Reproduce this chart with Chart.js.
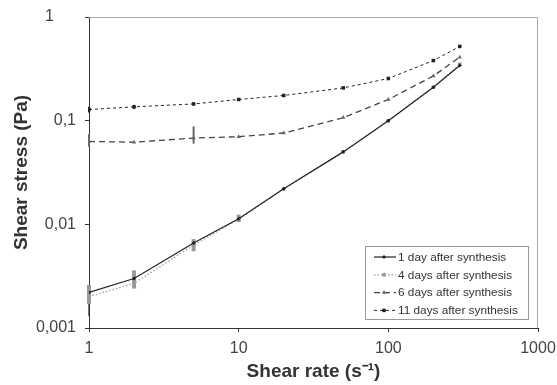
<!DOCTYPE html>
<html>
<head>
<meta charset="utf-8">
<script src="https://cdn.jsdelivr.net/npm/chart.js@4/dist/chart.umd.min.js"></script>
<style>
  html, body { margin: 0; padding: 0; background: #fff; }
  #wrap { width: 557px; height: 385px; }
</style>
</head>
<body>
<div id="wrap"><canvas id="c"></canvas></div>
<script>
// shear rate (s-1)
const shearRate = [1, 2, 5, 10, 20, 50, 100, 200, 300];
// shear stress (Pa) per sample age
const day1 = [0.0022, 0.003, 0.0066, 0.0113, 0.022, 0.05, 0.1, 0.21, 0.34];
const day4 = [0.002, 0.0027, 0.0063, 0.0112, 0.022, 0.05, 0.1, 0.21, 0.35];
const day6 = [0.063, 0.062, 0.068, 0.07, 0.076, 0.107, 0.16, 0.27, 0.41];
const day11 = [0.128, 0.136, 0.145, 0.16, 0.175, 0.207, 0.255, 0.38, 0.52];

// error bar ranges [low, high] (null = none)
const day1Err = [[0.0013, 0.0022], null, null, null, null, null, null, null, null];
const day4Err = [[0.0017, 0.0026], [0.0024, 0.0036], [0.0055, 0.0072], [0.0105, 0.0124], null, null, null, null, null];
const day6Err = [[0.056, 0.074], null, [0.06, 0.088], null, null, null, null, null, null];
const day11Err = [[0.12, 0.136], [0.13, 0.142], null, null, null, null, null, null, null];

const yTicks = [0.001, 0.01, 0.1, 1];
const xTicks = [1, 10, 100, 1000];
const seriesLabels = ['1 day after synthesis', '4 days after synthesis', '6 days after synthesis', '11 days after synthesis'];

const FONT = "Arial, 'Liberation Sans', sans-serif";
const pts = arr => shearRate.map((x, i) => ({ x: x, y: arr[i] }));

const datasets = [
  { label: seriesLabels[0], data: pts(day1), err: day1Err, borderColor: '#222', backgroundColor: '#222',
    borderWidth: 1.2, pointStyle: 'rectRot', pointRadius: 2, errColor: '#222', errWidth: 1.2 },
  { label: seriesLabels[1], data: pts(day4), err: day4Err, borderColor: '#999', backgroundColor: '#999',
    borderWidth: 1.2, borderDash: [1.5, 2], pointStyle: 'rect', pointRadius: 2.5, errColor: '#999', errWidth: 4 },
  { label: seriesLabels[2], data: pts(day6), err: day6Err, borderColor: '#444', backgroundColor: '#666',
    borderWidth: 1.3, borderDash: [6, 4], pointStyle: 'triangle', pointRadius: 2.5, errColor: '#666', errWidth: 2 },
  { label: seriesLabels[3], data: pts(day11), err: day11Err, borderColor: '#222', backgroundColor: '#222',
    borderWidth: 1, borderDash: [3, 3], pointStyle: 'rect', pointRadius: 2.5, errColor: '#222', errWidth: 2 }
];
datasets.forEach(d => { d.pointBorderWidth = 0; d.tension = 0; d.fill = false; });

// plot frame (top/right in light gray)
const frame = {
  id: 'frame',
  beforeDatasetsDraw(chart) {
    const { ctx, chartArea: a } = chart;
    ctx.save();
    ctx.strokeStyle = '#aaa';
    ctx.lineWidth = 1;
    ctx.beginPath();
    ctx.moveTo(a.left, a.top + 0.5);
    ctx.lineTo(a.right - 0.5, a.top + 0.5);
    ctx.lineTo(a.right - 0.5, a.bottom);
    ctx.stroke();
    ctx.restore();
  }
};

// error bars
const errorBars = {
  id: 'errorBars',
  beforeDatasetsDraw(chart) {
    const { ctx, scales } = chart;
    ctx.save();
    chart.data.datasets.forEach(ds => {
      ctx.strokeStyle = ds.errColor;
      ctx.lineWidth = ds.errWidth;
      ds.err.forEach((e, i) => {
        if (!e) return;
        const x = scales.x.getPixelForValue(shearRate[i]);
        ctx.beginPath();
        ctx.moveTo(x, scales.y.getPixelForValue(e[0]));
        ctx.lineTo(x, scales.y.getPixelForValue(e[1]));
        ctx.stroke();
      });
    });
    ctx.restore();
  }
};

// boxed legend inside lower right of the plot
const legendBox = {
  id: 'legendBox',
  afterDatasetsDraw(chart) {
    const { ctx, chartArea: a } = chart;
    const w = 163, h = 73;
    const x0 = a.right - 10 - w, y0 = a.bottom - 9 - h;
    ctx.save();
    ctx.fillStyle = '#fff';
    ctx.fillRect(x0, y0, w, h);
    ctx.strokeStyle = '#999';
    ctx.lineWidth = 1;
    ctx.strokeRect(x0 + 0.5, y0 + 0.5, w, h);
    chart.data.datasets.forEach((ds, i) => {
      const cy = y0 + 11 + i * 17.8;
      ctx.strokeStyle = ds.borderColor;
      ctx.lineWidth = ds.borderWidth;
      ctx.setLineDash(ds.borderDash || []);
      ctx.beginPath();
      ctx.moveTo(x0 + 9, cy);
      ctx.lineTo(x0 + 31, cy);
      ctx.stroke();
      ctx.setLineDash([]);
      ctx.fillStyle = ds.backgroundColor;
      Chart.helpers.drawPoint(ctx, { pointStyle: ds.pointStyle, radius: ds.pointRadius, rotation: 0, borderWidth: 0 }, x0 + 19, cy);
      ctx.fillStyle = '#333';
      ctx.font = '11.8px ' + FONT;
      ctx.textBaseline = 'middle';
      ctx.fillText(ds.label, x0 + 33, cy + 0.5);
    });
    ctx.restore();
  }
};

new Chart(document.getElementById('c'), {
  type: 'line',
  data: { datasets: datasets },
  plugins: [frame, errorBars, legendBox],
  options: {
    responsive: true,
    maintainAspectRatio: false,
    animation: false,
    layout: { padding: { left: 0, top: 17, right: 19, bottom: 0 } },
    plugins: { legend: { display: false }, tooltip: { enabled: false } },
    scales: {
      x: {
        type: 'logarithmic',
        min: 1, max: 1000,
        afterBuildTicks: s => { s.ticks = xTicks.map(v => ({ value: v })); },
        afterFit: s => { s.height = 57; s.paddingLeft = 0; s.paddingRight = 0; },
        border: { color: '#333', width: 1 },
        grid: { drawOnChartArea: false, drawTicks: true, tickLength: 4, color: '#333' },
        ticks: { color: '#444', font: { family: FONT, size: 16 }, padding: 7, autoSkip: false, maxRotation: 0,
                 callback: v => String(v) },
        title: { display: true, text: 'Shear rate (s\u207B\u00B9)', color: '#333',
                 font: { family: FONT, size: 19, weight: 'bold' }, padding: { top: 2, bottom: 2 } }
      },
      y: {
        type: 'logarithmic',
        min: 0.001, max: 1,
        afterBuildTicks: s => { s.ticks = yTicks.map(v => ({ value: v })); },
        afterFit: s => { s.width = 89; s.paddingTop = 0; s.paddingBottom = 0; },
        border: { color: '#333', width: 1 },
        grid: { drawOnChartArea: false, drawTicks: true, tickLength: 4, color: '#333' },
        ticks: { color: '#444', font: { family: FONT, size: 16 }, padding: 9, autoSkip: false,
                 callback: v => (v === 1 ? '1     ' : String(v).replace('.', ',')) },
        title: { display: true, text: 'Shear stress (Pa)', color: '#333',
                 font: { family: FONT, size: 19, weight: 'bold' }, padding: { top: 10, bottom: 0 } }
      }
    }
  }
});
</script>
</body>
</html>
